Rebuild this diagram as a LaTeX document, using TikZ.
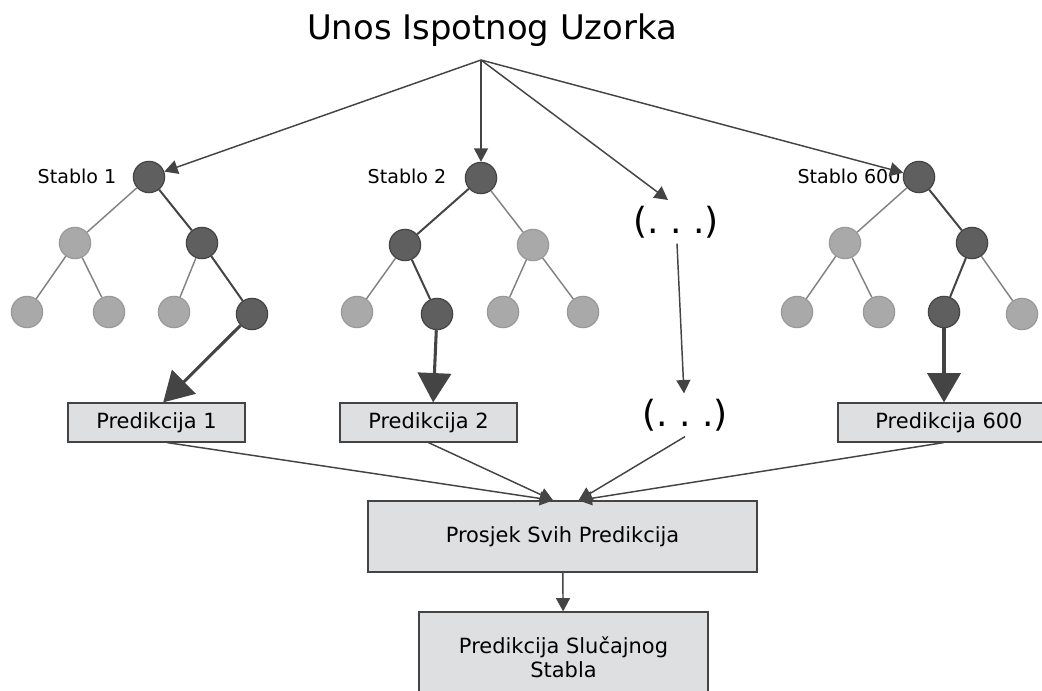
\documentclass[tikz,border=0pt]{standalone}
\usepackage{fontspec}
\setmainfont{DejaVu Sans}
\usetikzlibrary{arrows.meta,positioning}

\definecolor{darkfill}{HTML}{5F5F5F}
\definecolor{darkline}{HTML}{444444}
\definecolor{lightfill}{HTML}{A9A9A9}
\definecolor{lightline}{HTML}{999999}
\definecolor{boxfill}{HTML}{DEDFE1}

\begin{document}
\begin{tikzpicture}[
        x=0.75pt, y=-0.75pt,
        every node/.style={inner sep=2pt},
        dark/.style={circle, draw=darkline, fill=darkfill, line width=0.9pt, minimum size=23.5pt, inner sep=0pt},
        light/.style={circle, draw=lightline, fill=lightfill, line width=0.9pt, minimum size=23.5pt, inner sep=0pt},
        pred/.style={draw=darkline, fill=boxfill, line width=0.9pt, minimum width=132.75pt, minimum height=29.25pt, font=\fontsize{15.7}{19}\selectfont},
        lbl/.style={font=\fontsize{14.3}{17}\selectfont},
        dots/.style={font=\fontsize{27}{32}\selectfont, inner sep=4pt},
        ledge/.style={draw=lightline!85!black, line width=1.1pt},
        dedge/.style={draw=darkline, line width=1.5pt},
        thin/.style={draw=darkline, line width=1.1pt, -{Triangle[length=10pt,width=10.5pt]}},
        thick/.style={draw=darkline, line width=2.3pt, -{Triangle[length=22pt,width=25pt]}}
    ]
    \useasboundingbox (0,0) rectangle (1042,691);
    \clip (0,0) rectangle (1042,691);

    \node[font=\fontsize{25.4}{30}\selectfont] (input) at (492,30) {Unos Ispotnog Uzorka};
    \coordinate (src) at (481,60);

    % stablo 1
    \node[dark]  (A)   at (149,177) {};
    \node[light] (A1)  at (75,243) {};
    \node[dark]  (A2)  at (202,243) {};
    \node[light] (A11) at (27,312) {};
    \node[light] (A12) at (109,312) {};
    \node[light] (A21) at (174,312) {};
    \node[dark]  (A22) at (252,314) {};
    \node[lbl] at (77,176) {Stablo 1};
    \node[pred] (P1) at (156.5,422.5) {Predikcija 1};

    % stablo 2
    \node[dark]  (B)   at (481,178) {};
    \node[dark]  (B1)  at (405,245) {};
    \node[light] (B2)  at (533,245) {};
    \node[light] (B11) at (357,312) {};
    \node[dark]  (B12) at (437,314) {};
    \node[light] (B21) at (503,312) {};
    \node[light] (B22) at (583,312) {};
    \node[lbl] at (407,176) {Stablo 2};
    \node[pred] (P2) at (428.5,422.5) {Predikcija 2};

    % stablo 600
    \node[dark]  (C)   at (919,177) {};
    \node[light] (C1)  at (845,243) {};
    \node[dark]  (C2)  at (972,243) {};
    \node[light] (C11) at (797,312) {};
    \node[light] (C12) at (879,312) {};
    \node[dark]  (C21) at (944,312) {};
    \node[light] (C22) at (1022,314) {};
    \node[lbl] at (849,176) {Stablo 600};
    \node[pred, minimum width=166.5pt] (P3) at (949,422.5) {Predikcija 600};

    % (. . .)
    \node[dots] (D1) at (676,222) {(.\ .\ .)};
    \node[dots] (D2) at (685,415) {(.\ .\ .)};
    \coordinate (D1in) at (668,200);

    \node[pred, minimum width=291.75pt, minimum height=53.25pt] (avg) at (562.5,536.5) {Prosjek Svih Predikcija};
    \node[pred, minimum width=216.75pt, minimum height=67.5pt, align=center, font=\fontsize{15.7}{18}\selectfont] (final) at (563.5,657) {Predikcija Slučajnog\\Stabla};

    % grane
    \path[ledge] (A) -- (A1) (A1) -- (A11) (A1) -- (A12) (A2) -- (A21);
    \path[dedge] (A) -- (A2) (A2) -- (A22);
    \path[ledge] (B) -- (B2) (B1) -- (B11) (B2) -- (B21) (B2) -- (B22);
    \path[dedge] (B) -- (B1) (B1) -- (B12);
    \path[ledge] (C) -- (C1) (C1) -- (C11) (C1) -- (C12) (C2) -- (C22);
    \path[dedge] (C) -- (C2) (C2) -- (C21);

    % ulaz
    \draw[thin] (src) -- (A);
    \draw[thin] (src) -- (B);
    \draw[thin] (src) -- (D1in);
    \draw[thin] (src) -- (C);
    \draw[thin] (D1) -- (D2);

    % predikcije
    \draw[thick] (A22) -- ([xshift=5pt]P1.north);
    \draw[thick] (B12) -- ([xshift=3.5pt]P2.north);
    \draw[thick] (C21) -- (C21 |- P3.north);

    % prosjek
    \draw[thin] ([xshift=8pt]P1.south) -- ([xshift=-7pt]avg.north);
    \draw[thin] (P2.south) -- ([xshift=-7pt]avg.north);
    \draw[thin] (D2.south) -- ([xshift=12pt]avg.north);
    \draw[thin] ([xshift=-4pt]P3.south) -- ([xshift=12pt]avg.north);
    \draw[thin] (avg) -- (final);
\end{tikzpicture}
\end{document}
